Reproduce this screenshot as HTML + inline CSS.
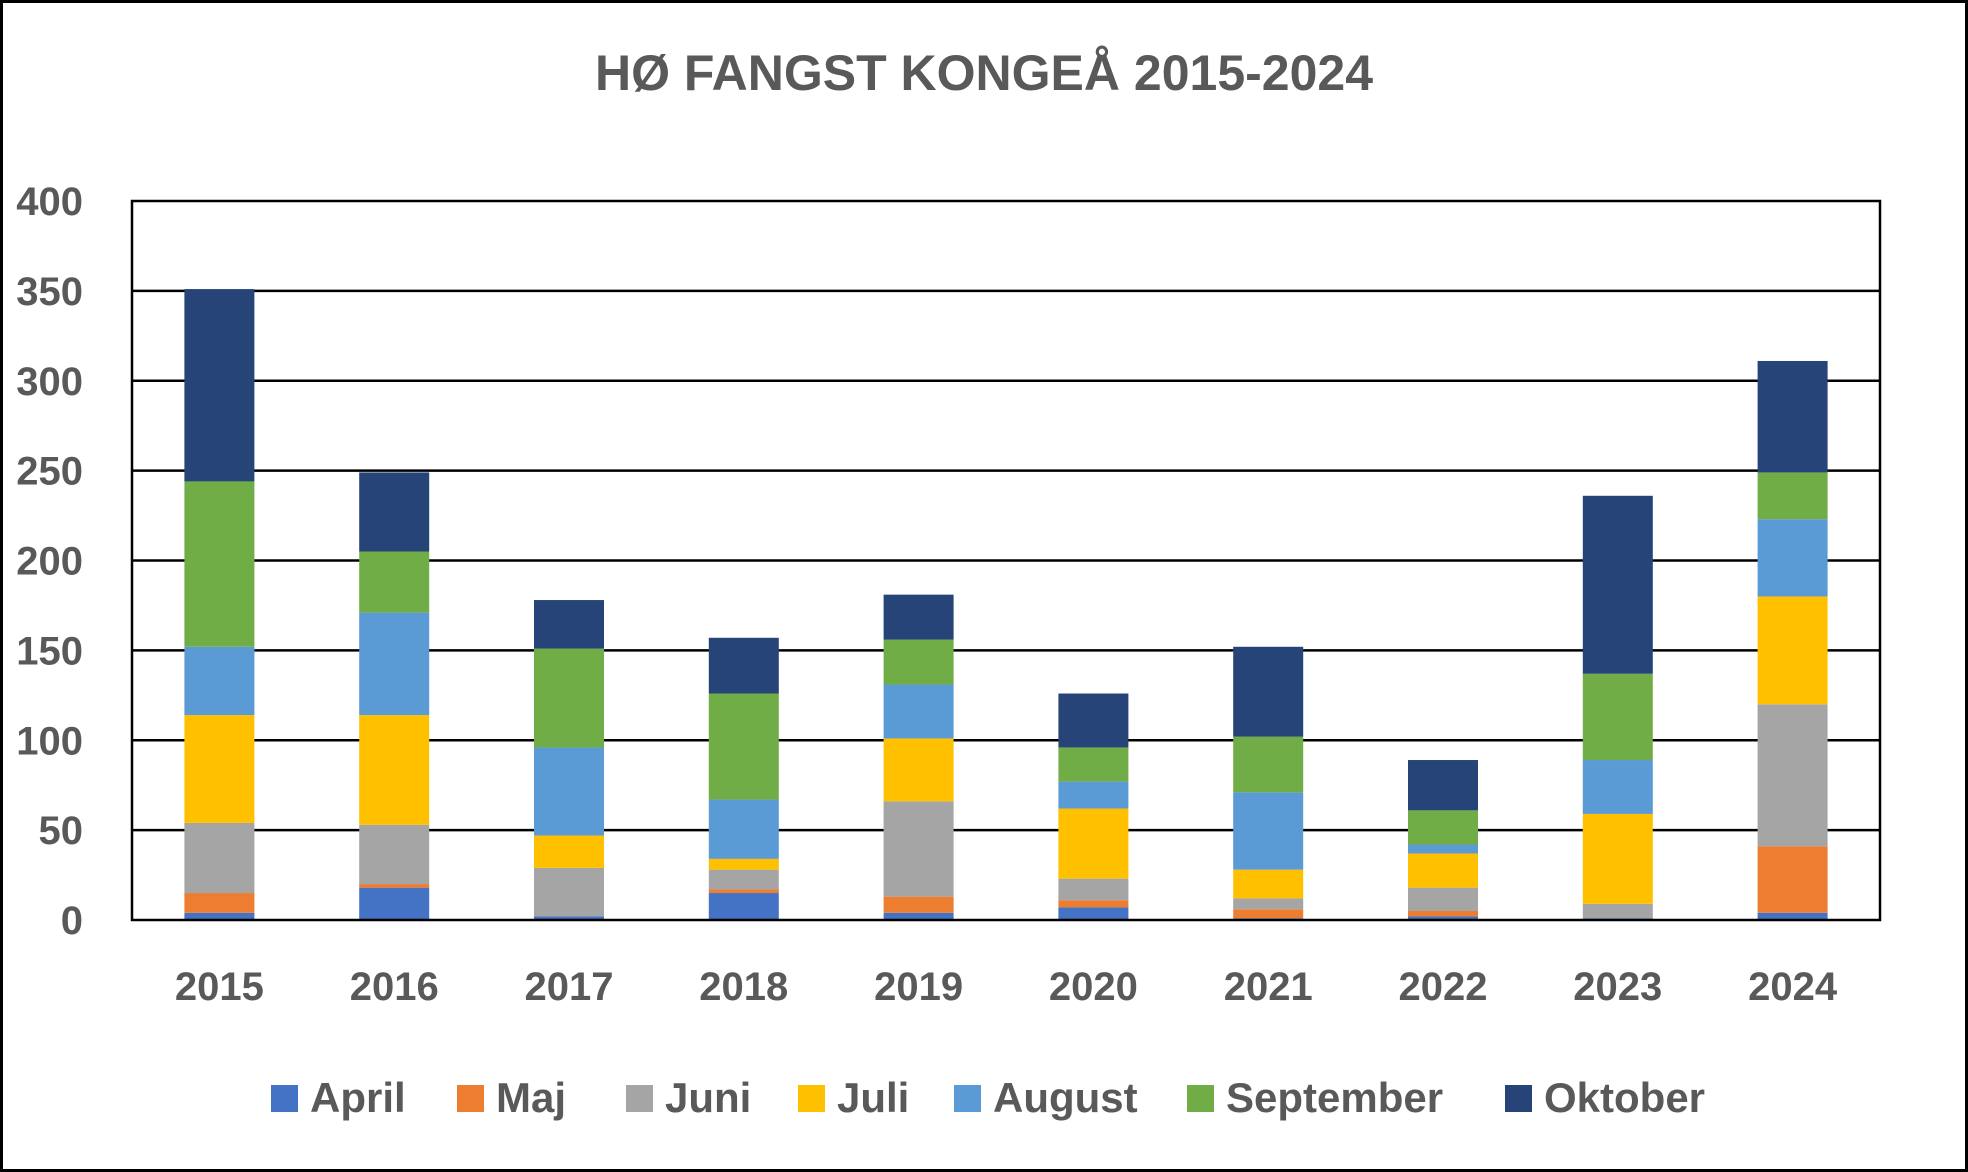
<!DOCTYPE html>
<html><head><meta charset="utf-8">
<style>
html,body{margin:0;padding:0;background:#fff;}
svg{display:block;font-family:"Liberation Sans",sans-serif;}
</style></head>
<body>
<svg id="chart" width="1968" height="1172" viewBox="0 0 1968 1172" xmlns="http://www.w3.org/2000/svg">
<rect x="1.5" y="1.5" width="1965" height="1169" fill="#fff" stroke="#000" stroke-width="3"/>
<text x="984" y="90" text-anchor="middle" font-size="50" font-weight="bold" fill="#595959">HØ FANGST KONGEÅ 2015-2024</text>
<g id="grid"></g>
<g id="bars"></g>
<g id="axes"></g>
<g id="legend"></g>
</svg>
<script>
const categories = ["2015","2016","2017","2018","2019","2020","2021","2022","2023","2024"];
const seriesNames = ["April","Maj","Juni","Juli","August","September","Oktober"];
const april = [4,18,2,15,4,7,1,2,1,4];
const maj = [11,2,0,2,9,4,5,3,0,37];
const juni = [39,33,27,11,53,12,6,13,8,79];
const juli = [60,61,18,6,35,39,16,19,50,60];
const august = [38,57,49,33,30,15,43,5,30,43];
const september = [92,34,55,59,25,19,31,19,48,26];
const oktober = [107,44,27,31,25,30,50,28,99,62];
const yTicks = [0,50,100,150,200,250,300,350,400];
const colors = ["#4472C4","#ED7D31","#A5A5A5","#FFC000","#5B9BD5","#70AD47","#264478"];
const series = [april,maj,juni,juli,august,september,oktober];

const NS="http://www.w3.org/2000/svg";
const L=132,R=1880,T=201,B=920,yMax=400;
const y=v=>B-(v/yMax)*(B-T);
const band=(R-L)/categories.length;
const x=i=>L+band*(i+0.5);
const bw=70;
function mk(tag,attrs,parent){const e=document.createElementNS(NS,tag);for(const k in attrs)e.setAttribute(k,attrs[k]);parent.appendChild(e);return e;}
const grid=document.getElementById('grid'),bars=document.getElementById('bars'),axes=document.getElementById('axes'),legend=document.getElementById('legend');
yTicks.forEach(t=>{
  if(t>0&&t<yMax){const g=mk('line',{x1:L,x2:R,y1:y(t),y2:y(t),stroke:'#000','stroke-width':2.5},grid);
  
  }
  const lb=mk('text',{x:83,y:y(t)+14,'text-anchor':'end','font-size':40,'font-weight':'bold',fill:'#595959'},axes);
  lb.textContent=t;
  
  
});
categories.forEach((c,i)=>{
  let cum=0;
  series.forEach((s,k)=>{
    const v=s[i];
    if(v>0){const r=mk('rect',{x:x(i)-bw/2,y:y(cum+v),width:bw,height:y(cum)-y(cum+v),fill:colors[k]},bars);
    
    }
    cum+=v;
  });
  const t=mk('text',{x:x(i),y:1000,'text-anchor':'middle','font-size':40,'font-weight':'bold',fill:'#595959'},axes);
  t.textContent=c;
  
  
});
const pa=mk('rect',{x:L,y:T,width:R-L,height:B-T,fill:'none',stroke:'#000','stroke-width':2.5},axes);


const legX=[271,457,626,798,954,1187,1505];
seriesNames.forEach((n,k)=>{
  const g=mk('g',{},legend);
  
  
  mk('rect',{x:legX[k],y:1085,width:27,height:27,fill:colors[k]},g);
  const t=mk('text',{x:legX[k]+39,y:1112,'font-size':42,'font-weight':'bold',fill:'#595959'},g);
  t.textContent=n;
});
</script>
</body></html>
